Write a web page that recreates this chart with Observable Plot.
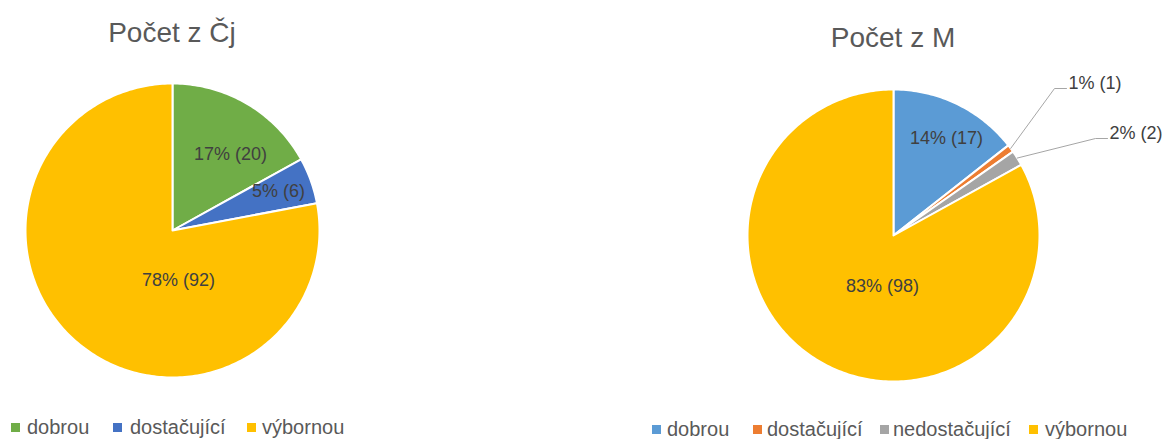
<!DOCTYPE html>
<html>
<head>
<meta charset="utf-8">
<script src="https://cdn.jsdelivr.net/npm/d3@7"></script>
<script src="https://cdn.jsdelivr.net/npm/@observablehq/plot@0.6"></script>
<style>
  body { margin: 0; background: #fff; }
  #wrap { position: relative; width: 1166px; height: 439px; overflow: hidden; font-family: "Liberation Sans", Arial, sans-serif; }
  #wrap svg { position: absolute; left: 0; top: 0; }
  .title { position: absolute; font-size: 28px; color: #595959; transform: translateX(-50%); white-space: nowrap; line-height: 1; }
  .legtext { position: absolute; font-size: 20px; color: #595959; white-space: nowrap; line-height: 1; }
  .legsq { position: absolute; width: 9px; height: 9px; }
</style>
</head>
<body>
<div id="wrap"></div>
<script>
// ---- data ----
const cjCategories = ["dobrou", "dostačující", "výbornou"];
const cjCounts = [20, 6, 92];
const mCategories = ["dobrou", "dostačující", "nedostačující", "výbornou"];
const mCounts = [17, 1, 2, 98];
const cjTitle = "Počet z Čj";
const mTitle = "Počet z M";

// ---- styles ----
const cjColors = ["#70AD47", "#4472C4", "#FFC000"];
const mColors = ["#5B9BD5", "#ED7D31", "#A5A5A5", "#FFC000"];

// ---- layout ----
const charts = [
  {
    title: cjTitle, cats: cjCategories, counts: cjCounts, colors: cjColors,
    cx: 172, cy: 230, r: 147, titleTop: 19,
    labels: [{dx: 58, dy: -76}, {dx: 106, dy: -39}, {dx: 6, dy: 50}],
    legendTop: 417, legendSq: [11, 113, 247], legendTx: [27, 130, 262]
  },
  {
    title: mTitle, cats: mCategories, counts: mCounts, colors: mColors,
    cx: 893, cy: 235, r: 146, titleTop: 24,
    labels: [{dx: 53, dy: -97}, {dx: 175, dy: -152, out: true}, {dx: 216, dy: -102, out: true}, {dx: -11, dy: 51}],
    legendTop: 419, legendSq: [652, 753, 880, 1029], legendTx: [667, 767, 893, 1045]
  }
];

const slicePts = [], leaderPts = [], inLabels = [], outLabels = [];
charts.forEach((c, ci) => {
  const total = d3.sum(c.counts);
  let acc = 0;
  c.counts.forEach((v, i) => {
    const a0 = acc / total * 2 * Math.PI;
    acc += v;
    const a1 = acc / total * 2 * Math.PI;
    const key = ci + "-" + i;
    const color = c.colors[i];
    const P = a => ({x: c.cx + c.r * Math.sin(a), y: c.cy - c.r * Math.cos(a)});
    slicePts.push({key, color, x: c.cx, y: c.cy});
    const n = Math.max(2, Math.ceil((a1 - a0) / (Math.PI / 180)));
    for (let k = 0; k <= n; k++) {
      const p = P(a0 + (a1 - a0) * k / n);
      slicePts.push({key, color, x: p.x, y: p.y});
    }
    slicePts.push({key, color, x: c.cx, y: c.cy});
    const pct = Math.round(v / total * 100);
    const text = pct + "% (" + v + ")";
    const L = c.labels[i];
    const lx = c.cx + L.dx, ly = c.cy + L.dy;
    if (L.out) {
      outLabels.push({x: lx, y: ly, text});
      const e = P((a0 + a1) / 2);
      leaderPts.push({key, x: e.x, y: e.y});
      leaderPts.push({key, x: lx - 14, y: ly + 5});
      leaderPts.push({key, x: lx - 2, y: ly + 5});
    } else {
      inLabels.push({x: lx, y: ly, text});
    }
  });
});

const svg = Plot.plot({
  width: 1166, height: 439, margin: 0,
  x: {domain: [0, 1166], range: [0, 1166], axis: null},
  y: {domain: [0, 439], range: [0, 439], axis: null},
  marks: [
    Plot.line(slicePts, {x: "x", y: "y", z: "key", fill: d => d.color, stroke: "white", strokeWidth: 2, strokeLinejoin: "round"}),
    Plot.line(leaderPts, {x: "x", y: "y", z: "key", stroke: "#A6A6A6", strokeWidth: 1}),
    Plot.text(inLabels, {x: "x", y: "y", text: "text", fill: "#404040", fontSize: 18, textAnchor: "middle", fontFamily: "Liberation Sans, Arial, sans-serif"}),
    Plot.text(outLabels, {x: "x", y: "y", text: "text", fill: "#404040", fontSize: 18, textAnchor: "start", fontFamily: "Liberation Sans, Arial, sans-serif"})
  ]
});
const wrap = document.getElementById("wrap");
wrap.appendChild(svg);

charts.forEach(c => {
  const t = document.createElement("div");
  t.className = "title";
  t.textContent = c.title;
  t.style.left = c.cx + "px";
  t.style.top = c.titleTop + "px";
  wrap.appendChild(t);
  c.cats.forEach((cat, i) => {
    const sq = document.createElement("div");
    sq.className = "legsq";
    sq.style.background = c.colors[i];
    sq.style.left = c.legendSq[i] + "px";
    sq.style.top = (c.legendTop + 6) + "px";
    wrap.appendChild(sq);
    const tx = document.createElement("div");
    tx.className = "legtext";
    tx.textContent = cat;
    tx.style.left = c.legendTx[i] + "px";
    tx.style.top = c.legendTop + "px";
    wrap.appendChild(tx);
  });
});
</script>
</body>
</html>
